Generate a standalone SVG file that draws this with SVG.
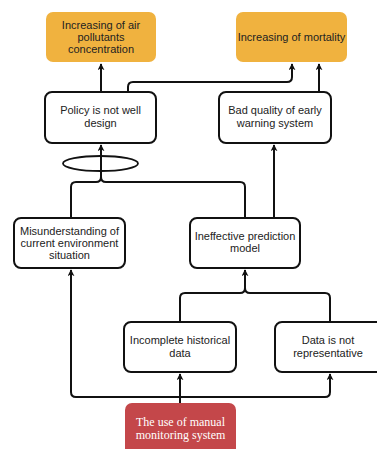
<svg xmlns="http://www.w3.org/2000/svg" width="377" height="449" viewBox="0 0 377 449">
<defs>
<marker id="ah" viewBox="0 0 10 10" refX="9" refY="5" markerWidth="7" markerHeight="7" orient="auto-start-reverse" markerUnits="userSpaceOnUse">
<path d="M0,0 L10,5 L0,10 L3,5 Z" fill="#111"/>
</marker>
<style>
.box{fill:#fff;stroke:#111;stroke-width:2}
.org{fill:#F0B23F;stroke:none}
.red{fill:#C4474A;stroke:none}
.t{font-family:"Liberation Sans",Arial,sans-serif;font-size:11px;fill:#222;text-anchor:middle}
.s{font-family:"Liberation Serif","Times New Roman",serif;font-size:12px;fill:#fff;text-anchor:middle}
.c{fill:none;stroke:#111;stroke-width:2;stroke-linejoin:round}
</style>
</defs>
<rect width="377" height="449" fill="#fff"/>
<g id="connectors">
<path class="c" d="M101,92 V64" marker-end="url(#ah)"/>
<path class="c" d="M128,92 V87 Q128,82 133,82 H287 Q292,82 292,77 V64" marker-end="url(#ah)"/>
<path class="c" d="M319,92 V64" marker-end="url(#ah)"/>
<path class="c" d="M71,218 V187 Q71,182 76,182 H96 Q101,182 101,177 V145" marker-end="url(#ah)"/>
<path class="c" d="M245,218 V187 Q245,182 240,182 H106 Q101,182 101,177"/>
<path class="c" d="M274,218 V145" marker-end="url(#ah)"/>
<path class="c" d="M180,322 V298 Q180,293 185,293 H240 Q245,293 245,288 V270" marker-end="url(#ah)"/>
<path class="c" d="M330,322 V298 Q330,293 325,293 H250 Q245,293 245,288"/>
<path class="c" d="M180,403 V374" marker-end="url(#ah)"/>
<path class="c" d="M180,397 H76 Q71,397 71,392 V270" marker-end="url(#ah)"/>
<path class="c" d="M180,397 H325 Q330,397 330,392 V374" marker-end="url(#ah)"/>
<ellipse cx="100.5" cy="163.5" rx="37.5" ry="7.5" fill="none" stroke="#111" stroke-width="1.8"/>
</g>
<g id="n1"><rect class="org" x="46" y="12" width="110" height="50" rx="7"/>
<text class="t" x="101" y="29">Increasing of air</text><text class="t" x="101" y="41">pollutants</text><text class="t" x="101" y="53">concentration</text></g>
<g id="n2"><rect class="org" x="236" y="12" width="111" height="50" rx="7"/>
<text class="t" x="291.5" y="41">Increasing of mortality</text></g>
<g id="n3"><rect class="box" x="45" y="92" width="111" height="51" rx="7"/>
<text class="t" x="100.5" y="114">Policy is not well</text><text class="t" x="100.5" y="127">design</text></g>
<g id="n4"><rect class="box" x="219" y="92" width="112" height="51" rx="7"/>
<text class="t" x="275" y="114">Bad quality of early</text><text class="t" x="275" y="127">warning system</text></g>
<g id="n5"><rect class="box" x="14" y="218" width="111" height="50" rx="7"/>
<text class="t" x="69.5" y="235">Misunderstanding of</text><text class="t" x="69.5" y="247">current environment</text><text class="t" x="69.5" y="259">situation</text></g>
<g id="n6"><rect class="box" x="190" y="218" width="110" height="50" rx="7"/>
<text class="t" x="245" y="240">Ineffective prediction</text><text class="t" x="245" y="252">model</text></g>
<g id="n7"><rect class="box" x="124" y="322" width="112" height="50" rx="7"/>
<text class="t" x="180" y="344">Incomplete historical</text><text class="t" x="180" y="357">data</text></g>
<g id="n8"><rect class="box" x="275" y="322" width="110" height="50" rx="7"/>
<text class="t" x="328" y="344">Data is not</text><text class="t" x="328" y="357">representative</text></g>
<g id="n9"><rect class="red" x="125" y="403" width="111" height="52" rx="7"/>
<text class="s" x="180.5" y="426">The use of manual</text><text class="s" x="180.5" y="439">monitoring system</text></g>
</svg>
